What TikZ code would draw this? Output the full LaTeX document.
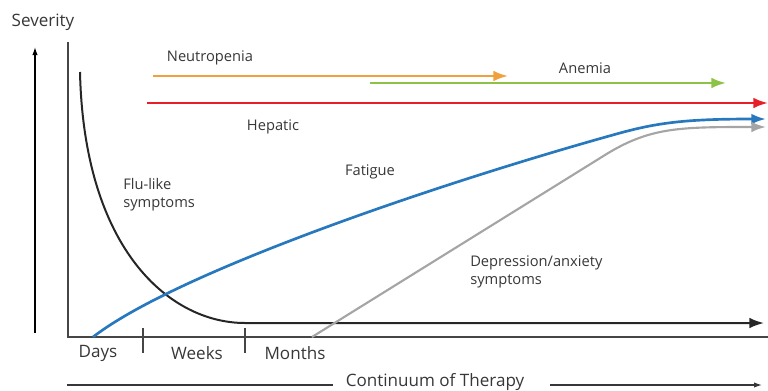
\documentclass[tikz,border=0pt]{standalone}
\usepackage{amsmath}
\usepackage{fontspec}
\setmainfont{Open Sans}
\usepackage{tikz}
\usetikzlibrary{arrows.meta}

\definecolor{neutcol}{RGB}{240,160,60}
\definecolor{anemcol}{RGB}{140,195,70}
\definecolor{hepcol}{RGB}{232,30,40}
\definecolor{fatcol}{RGB}{40,120,190}
\definecolor{depcol}{RGB}{165,165,165}
\definecolor{txtcol}{RGB}{55,55,55}

\begin{document}
\begin{tikzpicture}[x=0.75pt,y=0.75pt,yscale=-1,xscale=1,
  lbl/.style={inner sep=0.75pt,text=txtcol,font=\fontsize{11}{13.5}\selectfont},
  lbll/.style={lbl,anchor=west,align=left},
  biglbl/.style={lbl,font=\fontsize{12.8}{15}\selectfont},
  bigtip/.style={-{Latex[length=11pt,width=8pt]}},
  axisline/.style={color={rgb,255:red,70;green,70;blue,70},line width=1.1pt}]
\useasboundingbox (0,0) rectangle (768,390);

%Axes
\draw [axisline] (68,42) -- (68,337) -- (768,337) ;
%Severity arrow
\draw [color=black,line width=0.9pt,-{Latex[length=6pt,width=4pt]}] (35,333) -- (35,47) ;
%Ticks
\draw [axisline,line width=0.9pt] (143,328) -- (143,353) ;
\draw [axisline,line width=0.9pt] (245,328) -- (245,353) ;

%Neutropenia
\draw [neutcol,line width=1.6pt,bigtip] (153,76) -- (508,76) ;
%Anemia
\draw [anemcol,line width=1.6pt,bigtip] (370,83) -- (726,83) ;
%Hepatic
\draw [hepcol,line width=1.8pt,bigtip] (147,103) -- (768,103) ;

%Flu-like curve
\draw [color=black!85,line width=1.5pt,bigtip] (80,72) .. controls (84,250) and (170,323) .. (245,323) -- (764,323) ;
%Fatigue curve
\draw [fatcol,line width=2pt,bigtip] (93,337) .. controls (180,270) and (450,180) .. (620,133) .. controls (660,122) and (690,119) .. (766,119) ;
%Depression curve
\draw [depcol,line width=1.6pt,bigtip] (312,337) -- (605,155) .. controls (650,127) and (680,127) .. (766,127) ;

% Text Node
\node (sev) [biglbl] at (43,22) {Severity};
% Text Node
\node (neut) [lbl] at (210,58) {Neutropenia};
% Text Node
\node (anem) [lbl] at (585,68) {Anemia};
% Text Node
\node (hep) [lbl] at (273,127) {Hepatic};
% Text Node
\node (fat) [lbl] at (370,172) {Fatigue};
% Text Node
\node (flu) [lbll] at (122,195) {Flu-like\\symptoms};
% Text Node
\node (dep) [lbll] at (469,272) {Depression/anxiety\\symptoms};
% Text Node
\node (days) [biglbl] at (98,353) {Days};
% Text Node
\node (weeks) [biglbl] at (197,353) {Weeks};
% Text Node
\node (months) [biglbl] at (295,353) {Months};
% Text Node
\node (cont) [biglbl] at (435,382) {Continuum of Therapy};

%Continuum lines
\draw [color=txtcol,line width=0.9pt] (67,385) -- (333,385) ;
\draw [color=txtcol,line width=0.9pt,-{Latex[length=6pt,width=4pt]}] (550,385) -- (762,385) ;
\end{tikzpicture}
\end{document}
